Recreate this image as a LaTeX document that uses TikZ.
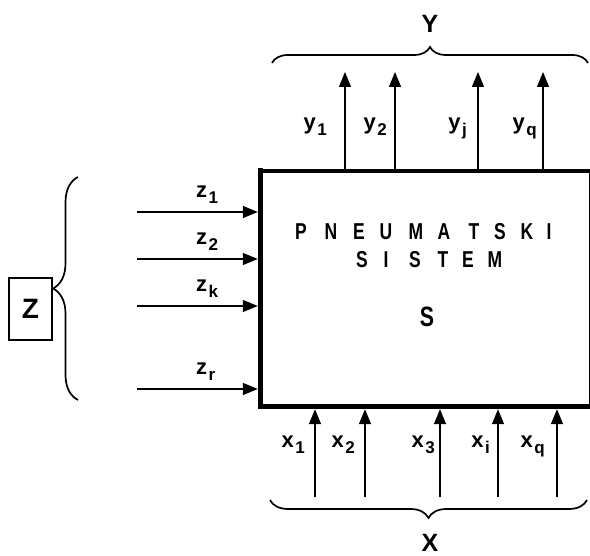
\documentclass[tikz,border=0pt]{standalone}
\usepackage{fontspec}
\setsansfont{Liberation Sans}
\usetikzlibrary{arrows.meta,decorations.pathreplacing}

\newcommand{\varsub}[2]{#1\kern1.5pt\raisebox{-6pt}{\fontsize{17}{17}\selectfont #2}}
\newcommand{\narrow}[1]{\scalebox{0.76}[1]{#1}}

\tikzset{
  arr/.style={-{Triangle[length=15pt,width=12pt]}, line width=1.3pt},
  lbl/.style={font=\sffamily\bfseries\fontsize{22}{22}\selectfont, inner sep=0pt},
  caplbl/.style={font=\sffamily\bfseries\fontsize{25}{25}\selectfont, inner sep=0pt},
  syslet/.style={font=\sffamily\bfseries\fontsize{23}{23}\selectfont, inner sep=0pt, anchor=base},
  brc/.style={decorate, decoration={brace, amplitude=#1}, line width=1.7pt},
}

\begin{document}
\begin{tikzpicture}[x=1pt,y=1pt]
	\useasboundingbox (0,0) rectangle (590,556);
	% system block
	\node[minimum width=328.5pt, minimum height=235pt, inner sep=0pt] (sys) at (424.75,267.5) {};
	\draw[line width=1pt] (sys.north east) -- (sys.south east);
	\draw[line width=4pt, line cap=rect] (sys.north west) -- (sys.north east);
	\draw[line width=5pt, line cap=rect] (sys.north west) -- (sys.south west) -- (sys.south east);
	
	\foreach \letter/\x [count=\i] in {P/301,N/331,E/359,U/386,M/416,A/444,T/474,S/500,K/527,I/549}
		\node[syslet] (p\i) at (\x,316) {\narrow{\letter}};
	\foreach \letter/\x [count=\i] in {S/362,I/386,S/415,T/443,E/468,M/495}
		\node[syslet] (s\i) at (\x,288) {\narrow{\letter}};
	\node[syslet, font=\sffamily\bfseries\fontsize{28}{28}\selectfont] (sname) at (427,229) {\narrow{S}};
	
	% inputs z
	\foreach \n/\y in {1/344,2/297,k/250,r/167} {
		\coordinate (z\n) at (137,\y);
		\draw[arr, shorten >=2.5pt] (z\n) -- (z\n -| sys.west);
		\node[lbl, anchor=base west] (lz\n) at (196,\y+14) {\varsub{z}{\n}};
	}
	
	% outputs y
	\foreach \n/\x/\lx in {1/345/327, 2/395/387, j/478/467, q/543/537} {
		\coordinate (y\n) at (\x,484);
		\draw[arr] (y\n |- sys.north) -- (y\n);
		\node[lbl, anchor=base east] (ly\n) at (\lx,426) {\varsub{y}{\n}};
	}
	
	% inputs x
	\foreach \n/\x/\lx in {1/315/305, 2/365/355, 3/440/435, i/498/490, q/557/545} {
		\coordinate (x\n) at (\x,59);
		\draw[arr, shorten >=3pt] (x\n) -- (x\n |- sys.south);
		\node[lbl, anchor=base east] (lx\n) at (\lx,108) {\varsub{x}{\n}};
	}
	
	% braces
	\coordinate (yb1) at (272,493);
	\coordinate (yb2) at (588,493);
	\draw[brc=16pt] (yb1) -- (yb2);
	\node[caplbl] (Ylab) at (430,532) {Y};
	
	\coordinate (xb1) at (587,56);
	\coordinate (xb2) at (270,56);
	\draw[brc=18pt] (xb1) -- (xb2);
	\node[caplbl] (Xlab) at (430,13) {X};
	
	\coordinate (zb1) at (78,156);
	\coordinate (zb2) at (78,379);
	\draw[brc=25pt] (zb1) -- (zb2);
	\node[draw, line width=1.2pt, minimum width=43pt, minimum height=62pt, caplbl,
		font=\sffamily\bfseries\fontsize{28}{28}\selectfont] (zbox) at (30.5,247) {Z};
\end{tikzpicture}
\end{document}
